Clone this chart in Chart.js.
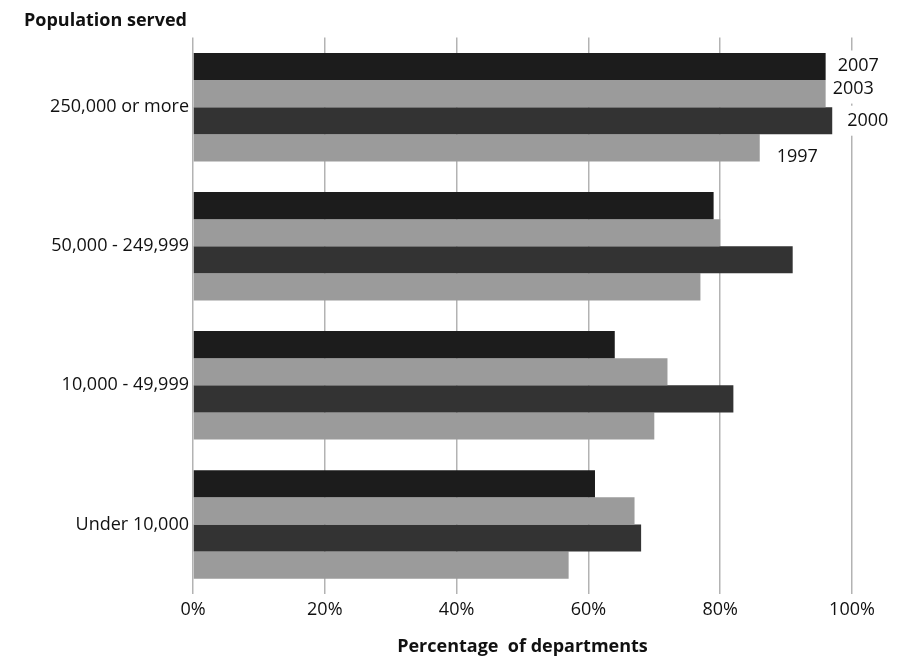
<!DOCTYPE html>
<html lang="en">
<head>
<meta charset="UTF-8" />
<title>Population served</title>
<script src="https://cdn.jsdelivr.net/npm/chart.js"></script>
<style>
  html, body { margin: 0; padding: 0; background: #fff; }
</style>
</head>
<body>
<canvas id="myChart" width="906" height="661"></canvas>
<script>
const categories = ["250,000 or more", "50,000 - 249,999", "10,000 - 49,999", "Under 10,000"];
const seriesNames = ["2007", "2003", "2000", "1997"];
const values2007 = [96, 79, 64, 61];
const values2003 = [96, 80, 72, 67];
const values2000 = [97, 91, 82, 68];
const values1997 = [86, 77, 70, 57];
const xTicks = [0, 20, 40, 60, 80, 100];

const FONT = "'Open Sans', sans-serif";
const colors = ["#1c1c1c", "#9b9b9b", "#333333", "#9b9b9b"];

// series names drawn next to the bars of the first category
const labelOffsets = [
  { dx: 12, dy: -1 },
  { dx: 7, dy: -5 },
  { dx: 15, dy: 0 },
  { dx: 17, dy: 9 },
];

const seriesLabels = {
  id: "seriesLabels",
  afterDatasetsDraw(chart) {
    const ctx = chart.ctx;
    ctx.save();
    ctx.font = "18px " + FONT;
    ctx.textBaseline = "middle";
    ctx.textAlign = "left";
    chart.data.datasets.forEach((ds, i) => {
      const bar = chart.getDatasetMeta(i).data[0];
      const off = labelOffsets[i];
      const x = bar.x + off.dx;
      const y = bar.y + off.dy;
      const w = ctx.measureText(ds.label).width;
      ctx.fillStyle = "#fff";
      ctx.fillRect(x - 2, y - 15, w + 4, 30);
    });
    chart.data.datasets.forEach((ds, i) => {
      const bar = chart.getDatasetMeta(i).data[0];
      const off = labelOffsets[i];
      ctx.fillStyle = "#111";
      ctx.fillText(ds.label, bar.x + off.dx, bar.y + off.dy);
    });
    ctx.restore();
  },
};

const allValues = [values2007, values2003, values2000, values1997];
const datasets = seriesNames.map((name, i) => ({
  label: name,
  data: allValues[i],
  backgroundColor: colors[i],
  borderWidth: 0,
  barPercentage: 1,
  categoryPercentage: 0.78,
}));

new Chart(document.getElementById("myChart").getContext("2d"), {
  type: "bar",
  data: { labels: categories, datasets: datasets },
  plugins: [seriesLabels],
  options: {
    responsive: false,
    animation: false,
    indexAxis: "y",
    layout: { padding: { left: 24, right: 54, top: 10, bottom: 0 } },
    plugins: {
      legend: { display: false },
      tooltip: { enabled: false },
      title: {
        display: true,
        text: "Population served",
        align: "start",
        color: "#111",
        font: { family: FONT, size: 18, weight: "bold" },
        padding: { top: 0, bottom: 6 },
      },
    },
    scales: {
      x: {
        min: 0,
        max: 100,
        afterBuildTicks: (s) => { s.ticks = xTicks.map((v) => ({ value: v })); },
        afterFit: (s) => { s.height = 67; },
        border: { display: false },
        grid: { color: "#b3b3b3", lineWidth: 1.5, drawTicks: false },
        ticks: {
          padding: 5,
          color: "#111",
          font: { family: FONT, size: 18 },
          callback: (v) => v + "%",
        },
        title: {
          display: true,
          text: "Percentage  of departments",
          color: "#111",
          font: { family: FONT, size: 18, weight: "bold" },
          padding: { top: 0, bottom: 3 },
        },
      },
      y: {
        afterFit: (s) => { s.width = 169; },
        border: { display: false },
        grid: { display: false, drawTicks: false },
        ticks: {
          padding: 4,
          color: "#111",
          font: { family: FONT, size: 18 },
        },
      },
    },
  },
});
</script>
</body>
</html>
